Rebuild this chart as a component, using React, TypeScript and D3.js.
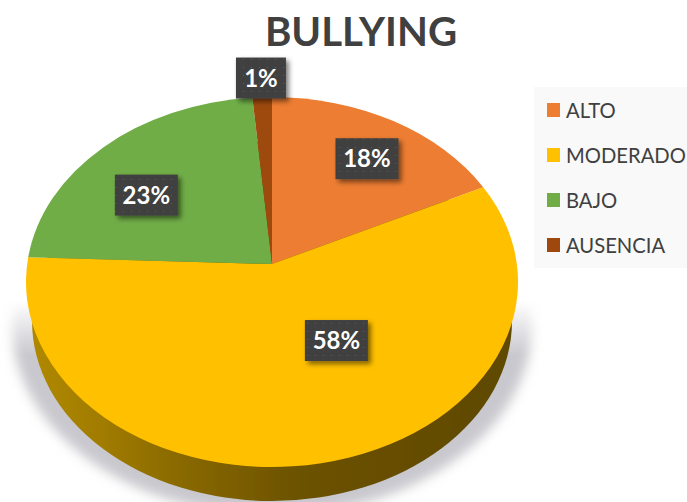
import React from "react";
import * as d3 from "d3";

const categories = ["ALTO", "MODERADO", "BAJO", "AUSENCIA"];
const values = [17.8, 57.8, 23, 1.4];
const labels = ["18%", "58%", "23%", "1%"];
const colors = ["#ed7d31", "#ffc000", "#70ad47", "#9e480e"];
const title = "BULLYING";

const W = 687, H = 502;
const cx = 272, cy = 282, rx = 246, ry = 185;
const baseCy = 321, baseRx = 240, baseRy = 180;
const tilt = -0.097; // perspective shift of the pie apex
const labelRadius = 0.7;
const labelNudge = [[9, -2.5], [26.6, -58], [-7, 15.5], [-4, -66]];
const font = "Lato, 'Open Sans', sans-serif";

const color = d3.scaleOrdinal<string, string>().domain(categories).range(colors);
const sx = d3.scaleLinear().domain([-1, 1]).range([cx - rx, cx + rx]);
const sy = d3.scaleLinear().domain([-1, 1]).range([cy - ry, cy + ry]);

// projective map: keeps the unit circle, moves its centre to (0, tilt)
function project(theta: number, r = 1): [number, number] {
  const x = r * Math.sin(theta), y = -r * Math.cos(theta);
  const d = 1 + tilt * y;
  return [sx((x * Math.sqrt(1 - tilt * tilt)) / d), sy((y + tilt) / d)];
}
const param = (p: [number, number]) => {
  const a = Math.atan2((p[0] - cx) / rx, -(p[1] - cy) / ry);
  return a < 0 ? a + 2 * Math.PI : a;
};

const arcs = d3.pie<number>().sort(null)(values);

function topPath(start: number, end: number) {
  const p0 = project(start), p1 = project(end), apex = project(0, 0);
  const a0 = param(p0);
  let a1 = param(p1);
  if (a1 <= a0) a1 += 2 * Math.PI;
  const large = a1 - a0 > Math.PI ? 1 : 0;
  return `M${apex}L${p0}A${rx} ${ry} 0 ${large} 1 ${p1}Z`;
}

const legendY = d3.scalePoint<string>().domain(categories).range([110, 245]);

export default function App() {
  return (
    <svg width={W} height={H} viewBox={`0 0 ${W} ${H}`} style={{ position: "fixed", left: 0, top: 0, background: "#fff" }}>
      <defs>
        <filter id="shadowBlur" x="-10%" y="-10%" width="120%" height="120%">
          <feGaussianBlur stdDeviation="6" />
        </filter>
        <filter id="soft" x="-5%" y="-5%" width="110%" height="110%">
          <feGaussianBlur stdDeviation="0.6" />
        </filter>
        <filter id="boxShadow" x="-30%" y="-30%" width="170%" height="170%">
          <feDropShadow dx="3" dy="3" stdDeviation="2.5" floodColor="#000" floodOpacity="0.5" />
        </filter>
        <linearGradient id="fadeTop" x1="0" x2="0" y1="0" y2="1" gradientUnits="objectBoundingBox">
          <stop offset="0" stopColor="#fff" stopOpacity="0" />
          <stop offset="0.5" stopColor="#fff" stopOpacity="0" />
          <stop offset="0.59" stopColor="#fff" stopOpacity="1" />
          <stop offset="1" stopColor="#fff" stopOpacity="1" />
        </linearGradient>
        <mask id="shadowMask" maskUnits="userSpaceOnUse" x="0" y="0" width={W} height={H + 100}>
          <rect x="0" y="0" width={W} height={H + 100} fill="url(#fadeTop)" />
        </mask>
        <linearGradient id="sideShade" x1={cx - baseRx} x2={cx + baseRx} y1="0" y2="0" gradientUnits="userSpaceOnUse">
          <stop offset="0" stopColor="#b08800" />
          <stop offset="0.15" stopColor="#a07b00" />
          <stop offset="0.3" stopColor="#8a6a00" />
          <stop offset="0.55" stopColor="#6c5200" />
          <stop offset="1" stopColor="#5f4800" />
        </linearGradient>
        <pattern id="dots" width="8" height="8" patternUnits="userSpaceOnUse">
          <rect width="8" height="8" fill="#404040" />
          <rect x="3" y="3" width="1" height="1" fill="#5c5c5c" />
        </pattern>
      </defs>

      <text transform="translate(361 46) scale(0.98 1)" textAnchor="middle" fontFamily={font} fontWeight={700} fontSize={41} fill="#404040">{title}</text>

      <g mask="url(#shadowMask)">
        <ellipse cx={cx} cy={325} rx={260} ry={190} fill="#c8c8ce" filter="url(#shadowBlur)" />
      </g>

      <g filter="url(#soft)">
        <ellipse cx={cx} cy={baseCy} rx={baseRx} ry={baseRy} fill="url(#sideShade)" />
        {arcs.map((a, i) => (
          <path key={i} d={topPath(a.startAngle, a.endAngle)} fill={color(categories[i])} />
        ))}
      </g>

      {arcs.map((a, i) => {
        const [x, y] = project((a.startAngle + a.endAngle) / 2, labelRadius);
        const lx = x + labelNudge[i][0], ly = y + labelNudge[i][1];
        const w = labels[i].length > 2 ? 63 : 50, h = 41;
        return (
          <g key={i}>
            <rect x={lx - w / 2} y={ly - h / 2} width={w} height={h} fill="url(#dots)" filter="url(#boxShadow)" />
            <text x={lx} y={ly + 8.5} textAnchor="middle" fontFamily={font} fontWeight={700} fontSize={24} fill="#fff">{labels[i]}</text>
          </g>
        );
      })}

      <rect x={534} y={87} width={153} height={181} fill="#f9f9f9" />
      {categories.map((c) => (
        <g key={c}>
          <rect x={547} y={legendY(c)! - 7} width={13} height={14} fill={color(c)} />
          <text transform={`translate(566 ${legendY(c)! + 7.5}) scale(0.94 1)`} fontFamily={font} fontSize={21.5} fill="#404040">{c}</text>
        </g>
      ))}
    </svg>
  );
}
